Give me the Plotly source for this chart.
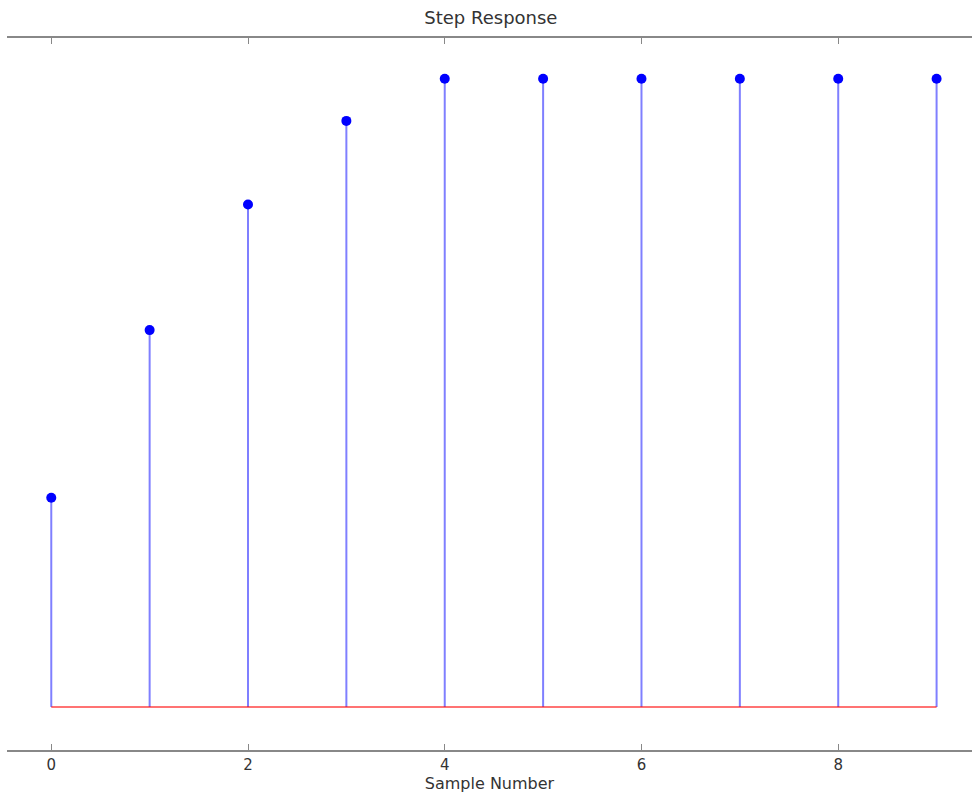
import plotly.graph_objects as go

samples = [0, 1, 2, 3, 4, 5, 6, 7, 8, 9]
response = [0.333, 0.6, 0.8, 0.933, 1.0, 1.0, 1.0, 1.0, 1.0, 1.0]
baseline_x = [0, 9]
baseline_y = [0, 0]
tick_vals = [0, 2, 4, 6, 8]
tick_text = ["0", "2", "4", "6", "8"]

fig = go.Figure()

# stems (drawn as one-sided error bars down to zero)
fig.add_trace(go.Scatter(
    x=samples, y=response, mode="markers",
    marker=dict(size=0.1, color="rgba(0,0,0,0)"),
    error_y=dict(type="data", symmetric=False, array=[0] * len(response),
                 arrayminus=response, color="rgba(0,0,255,0.5)",
                 thickness=2, width=0),
    hoverinfo="skip", showlegend=False))

# baseline
fig.add_trace(go.Scatter(
    x=baseline_x, y=baseline_y, mode="lines",
    line=dict(color="rgba(255,0,0,0.55)", width=2),
    hoverinfo="skip", showlegend=False))

# markers
fig.add_trace(go.Scatter(
    x=samples, y=response, mode="markers",
    marker=dict(size=10, color="#0000ff", line=dict(width=0)),
    showlegend=False))

fig.update_layout(
    width=972, height=798,
    margin=dict(l=7, r=0, t=38, b=48),
    paper_bgcolor="white", plot_bgcolor="white",
    font=dict(family="DejaVu Sans", size=15, color="#333333"),
    title=dict(text="Step Response", x=0.505, xanchor="center",
               y=0.978, yanchor="middle",
               font=dict(family="DejaVu Sans", size=18, color="#333333")),
    xaxis=dict(range=[-0.45, 9.36], tickvals=tick_vals, ticktext=tick_text,
               showline=True, linecolor="#888888", linewidth=2, mirror="ticks",
               ticks="inside", ticklen=6, tickwidth=1, tickcolor="#888888",
               showgrid=False, zeroline=False,
               title=dict(text="Sample Number", standoff=4,
                          font=dict(family="DejaVu Sans", size=16, color="#333333"))),
    yaxis=dict(range=[-0.0685, 1.065], showline=False, showticklabels=False,
               ticks="", showgrid=False, zeroline=False),
)

fig.write_html("out.html", config={"displayModeBar": False},
               post_script="document.body.style.margin='0px';document.body.style.overflow='hidden';")
